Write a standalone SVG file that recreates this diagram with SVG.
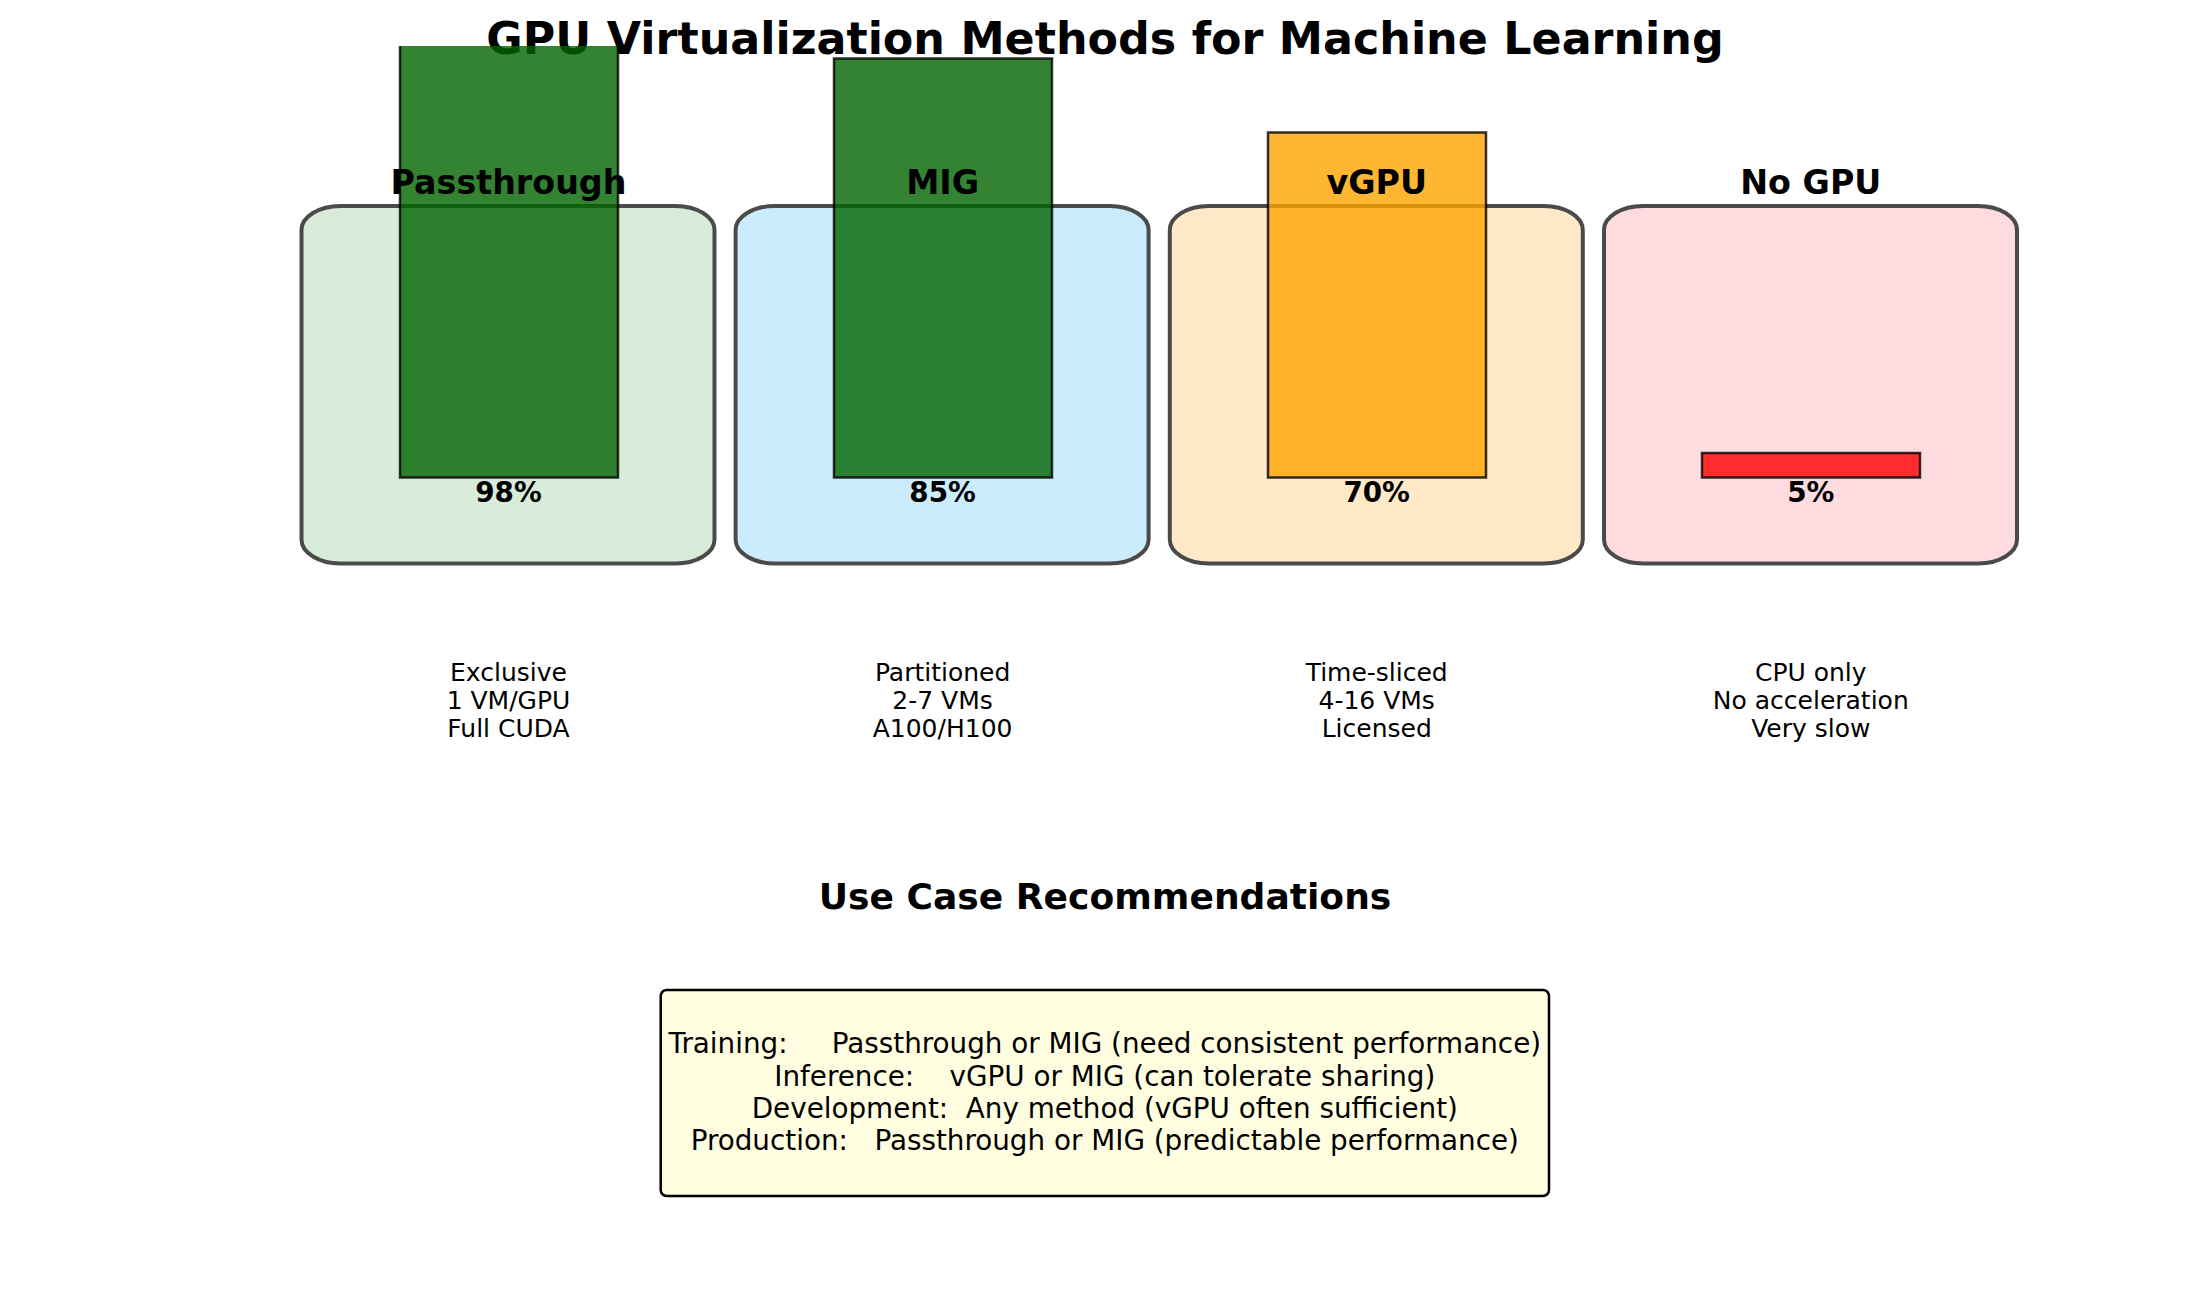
<svg xmlns="http://www.w3.org/2000/svg" width="2210" height="1298" viewBox="0 0 2210 1298">
<style>
text{font-family:"DejaVu Sans","Liberation Sans",sans-serif;fill:#000;text-anchor:middle}
.title{font-size:44.4px;font-weight:bold}
.label{font-size:33.3px;font-weight:bold}
.pct{font-size:27.8px;font-weight:bold}
.desc{font-size:25px}
.head{font-size:36.1px;font-weight:bold}
.rec{font-size:27.8px;white-space:pre}
.card{stroke:#4a4a4a;stroke-width:4}
.bar{stroke:#000;stroke-opacity:0.8;stroke-width:2.5;fill-opacity:0.8}
</style>
<defs>
<clipPath id="axclip"><rect x="0" y="46" width="2210" height="1252"/></clipPath>
</defs>
<rect width="2210" height="1298" fill="#fff"/>
<text class="title" x="1105" y="53.5">GPU Virtualization Methods for Machine Learning</text>

<g id="passthrough">
<rect class="card" x="301.5" y="206" width="413" height="357.5" rx="39" ry="24" fill="#d8ecd9"/>
<rect class="bar" x="400" y="-6" width="218" height="483.5" fill="#006400" clip-path="url(#axclip)"/>
<text class="label" x="508.5" y="193.5">Passthrough</text>
<text class="pct" x="508.5" y="501.5">98%</text>
<text class="desc" x="508.5" y="681">Exclusive</text>
<text class="desc" x="508.5" y="709">1 VM/GPU</text>
<text class="desc" x="508.5" y="737">Full CUDA</text>
</g>

<g id="mig">
<rect class="card" x="735.6" y="206" width="413" height="357.5" rx="39" ry="24" fill="#caecfc"/>
<rect class="bar" x="834" y="58.5" width="218" height="419" fill="#006400"/>
<text class="label" x="942.6" y="193.5">MIG</text>
<text class="pct" x="942.6" y="501.5">85%</text>
<text class="desc" x="942.6" y="681">Partitioned</text>
<text class="desc" x="942.6" y="709">2-7 VMs</text>
<text class="desc" x="942.6" y="737">A100/H100</text>
</g>

<g id="vgpu">
<rect class="card" x="1169.8" y="206" width="413" height="357.5" rx="39" ry="24" fill="#ffe9c9"/>
<rect class="bar" x="1268" y="132.5" width="218" height="345" fill="#ffa500"/>
<text class="label" x="1376.7" y="193.5">vGPU</text>
<text class="pct" x="1376.7" y="501.5">70%</text>
<text class="desc" x="1376.7" y="681">Time-sliced</text>
<text class="desc" x="1376.7" y="709">4-16 VMs</text>
<text class="desc" x="1376.7" y="737">Licensed</text>
</g>

<g id="nogpu">
<rect class="card" x="1604" y="206" width="413" height="357.5" rx="39" ry="24" fill="#ffdbe0"/>
<rect class="bar" x="1702" y="453" width="218" height="24.5" fill="#ff0000"/>
<text class="label" x="1810.8" y="193.5">No GPU</text>
<text class="pct" x="1810.8" y="501.5">5%</text>
<text class="desc" x="1810.8" y="681">CPU only</text>
<text class="desc" x="1810.8" y="709">No acceleration</text>
<text class="desc" x="1810.8" y="737">Very slow</text>
</g>

<g id="recommendations">
<text class="head" x="1105" y="909.3">Use Case Recommendations</text>
<rect x="660.7" y="990" width="888.3" height="206" rx="6" ry="6" fill="#fffee0" stroke="#000" stroke-width="2.5"/>
<text class="rec" xml:space="preserve" x="1104.8" y="1053.3">Training:     Passthrough or MIG (need consistent performance)</text>
<text class="rec" xml:space="preserve" x="1104.8" y="1085.5">Inference:    vGPU or MIG (can tolerate sharing)</text>
<text class="rec" xml:space="preserve" x="1104.8" y="1117.7">Development:  Any method (vGPU often sufficient)</text>
<text class="rec" xml:space="preserve" x="1104.8" y="1150">Production:   Passthrough or MIG (predictable performance)</text>
</g>

<g id="connectors"></g>
</svg>
